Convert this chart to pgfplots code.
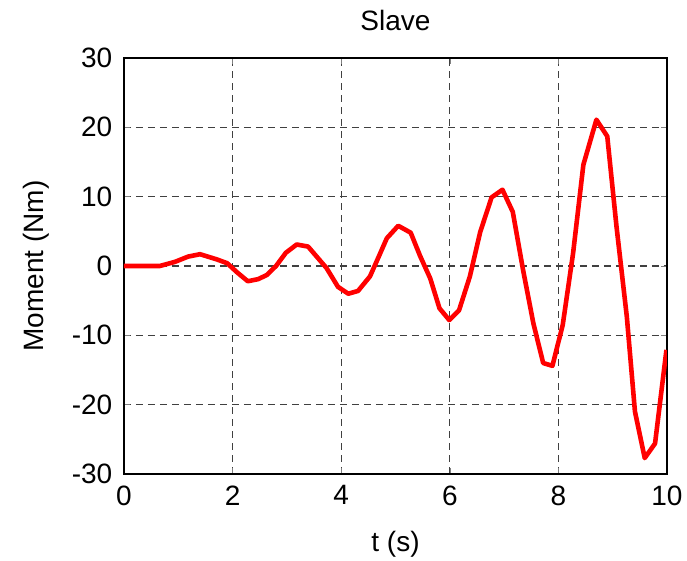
\documentclass[border=0pt]{standalone}
\usepackage{fontspec}
\setmainfont{Liberation Sans}
\usepackage{pgfplots}
\pgfplotsset{compat=1.18}
\begin{document}
\fontsize{14}{16}\selectfont
\begin{tikzpicture}
\begin{axis}[
  scale only axis,
  width=271.5pt, height=208pt,
  xmin=0, xmax=10, ymin=-30, ymax=30,
  xtick={0,2,4,6,8,10}, ytick={-30,-20,-10,0,10,20,30},
  tick align=inside, major tick length=3pt,
  grid=major,
  major grid style={dash pattern=on 3.5pt off 2.5pt, color=black!75, line width=0.6pt},
  axis line style={line width=0.6pt},
  /pgf/number format/assume math mode=true,
  ticklabel style={font=\fontsize{14}{16}\selectfont},
  every axis title shift=0pt,
  title={Slave},
  title style={at={(axis description cs:0.5,1.091)}, anchor=center, font=\fontsize{14}{16}\selectfont},
  xlabel={t (s)},
  xlabel style={at={(axis description cs:0.5,-0.168)}, anchor=center, font=\fontsize{14}{16}\selectfont},
  ylabel={Moment (Nm)},
  ylabel style={at={(axis description cs:-0.162,0.5)}, anchor=center, rotate=0, font=\fontsize{14}{16}\selectfont},
  yticklabel style={xshift=-1pt},
  xticklabel style={yshift=-1pt},
]
\addplot[red, line width=2.3pt, line join=round] coordinates {
(0,0) (0.2,0) (0.4,0) (0.66,0) (0.94,0.6) (1.18,1.35) (1.4,1.7) (1.71,0.95) (1.9,0.4)
(2.08,-0.9) (2.28,-2.2) (2.47,-1.9) (2.63,-1.3) (2.8,0.0) (2.98,1.9) (3.18,3.1) (3.39,2.8)
(3.73,-0.3) (3.94,-3.0) (4.13,-4.0) (4.31,-3.6) (4.53,-1.5) (4.7,1.5) (4.84,4.0) (5.05,5.8)
(5.28,4.8) (5.45,1.5) (5.64,-1.8) (5.81,-6.1) (5.99,-7.8) (6.17,-6.4) (6.37,-1.5) (6.56,4.9)
(6.77,9.9) (6.97,11.0) (7.16,7.8) (7.35,-0.6) (7.54,-8.3) (7.72,-14.0) (7.89,-14.4)
(8.08,-8.5) (8.27,1.8) (8.46,14.6) (8.70,21.1) (8.90,18.7) (9.07,5.7) (9.26,-7.3)
(9.41,-21.0) (9.59,-27.7) (9.78,-25.6) (9.99,-12.1)
};
\end{axis}
\pgfresetboundingbox
\path (current axis.south west) ++(-62pt,-43.5pt) (current axis.north east) ++(10pt,29pt);
\end{tikzpicture}
\end{document}
